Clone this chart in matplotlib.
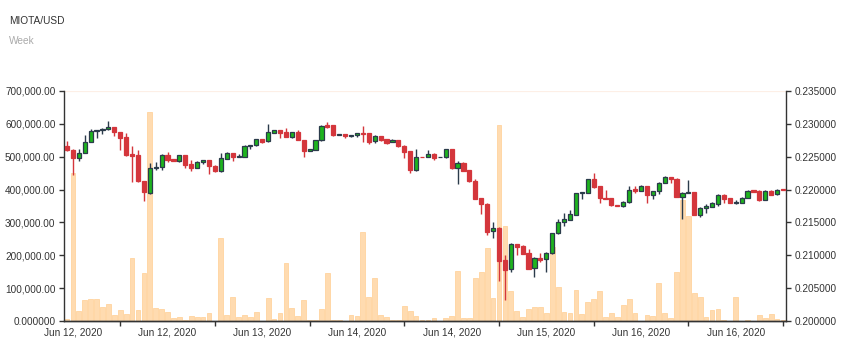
import matplotlib
matplotlib.use("Agg")
import matplotlib.pyplot as plt
from matplotlib.ticker import FuncFormatter
import numpy as np

plt.rcParams['font.family'] = ['Liberation Sans', 'DejaVu Sans']

# OHLC prices (USD) for each period
opens = [
    0.22658, 0.22607, 0.22486, 0.22562, 0.22724, 0.22896, 0.22907, 0.22917, 0.22947, 0.22876,
    0.22795, 0.22541, 0.22526, 0.22136, 0.21948, 0.22323, 0.22339, 0.22526, 0.22470, 0.22440,
    0.22521, 0.22384, 0.22328, 0.22420, 0.22445, 0.22364, 0.22278, 0.22470, 0.22562, 0.22496,
    0.22501, 0.22658, 0.22673, 0.22765, 0.22734, 0.22861, 0.22902, 0.22871, 0.22805, 0.22876,
    0.22760, 0.22582, 0.22607, 0.22749, 0.22978, 0.22978, 0.22825, 0.22841, 0.22820, 0.22825,
    0.22861, 0.22856, 0.22734, 0.22815, 0.22770, 0.22724, 0.22749, 0.22663, 0.22582, 0.22293,
    0.22501, 0.22496, 0.22536, 0.22491, 0.22491, 0.22612, 0.22328, 0.22405, 0.22298, 0.22136,
    0.21867, 0.21786, 0.21365, 0.21415, 0.20923, 0.20792, 0.21177, 0.21137, 0.21035, 0.20802,
    0.20964, 0.20939, 0.21030, 0.21334, 0.21502, 0.21537, 0.21618, 0.21943, 0.21953, 0.22156,
    0.22055, 0.21877, 0.21867, 0.21771, 0.21745, 0.21806, 0.22014, 0.21978, 0.22055, 0.21923,
    0.21973, 0.22100, 0.22192, 0.22166, 0.21892, 0.21948, 0.21958, 0.21618, 0.21720, 0.21740,
    0.21786, 0.21923, 0.21867, 0.21791, 0.21801, 0.21872, 0.21989, 0.21983, 0.21841, 0.21983,
    0.21928, 0.22004,
]
highs = [
    0.22734, 0.22618, 0.22618, 0.22831, 0.22917, 0.22912, 0.22937, 0.23044, 0.22947, 0.22876,
    0.22856, 0.22658, 0.22607, 0.22136, 0.22405, 0.22425, 0.22536, 0.22567, 0.22470, 0.22531,
    0.22521, 0.22450, 0.22440, 0.22450, 0.22445, 0.22374, 0.22552, 0.22577, 0.22562, 0.22547,
    0.22678, 0.22683, 0.22775, 0.22765, 0.22998, 0.22912, 0.22902, 0.22932, 0.22881, 0.22912,
    0.22760, 0.22612, 0.22760, 0.22978, 0.23028, 0.22978, 0.22841, 0.22841, 0.22836, 0.22866,
    0.22962, 0.22856, 0.22831, 0.22820, 0.22770, 0.22775, 0.22760, 0.22673, 0.22592, 0.22612,
    0.22501, 0.22602, 0.22552, 0.22501, 0.22618, 0.22612, 0.22435, 0.22415, 0.22298, 0.22156,
    0.21877, 0.21796, 0.21502, 0.21425, 0.21000, 0.21187, 0.21177, 0.21152, 0.21101, 0.20974,
    0.21035, 0.21045, 0.21344, 0.21558, 0.21639, 0.21694, 0.21948, 0.21958, 0.22161, 0.22257,
    0.22055, 0.21989, 0.21867, 0.21771, 0.21826, 0.22060, 0.22060, 0.22065, 0.22055, 0.21978,
    0.22110, 0.22202, 0.22192, 0.22171, 0.21963, 0.22151, 0.21968, 0.21735, 0.21786, 0.21806,
    0.21933, 0.21928, 0.21867, 0.21847, 0.21887, 0.21989, 0.21989, 0.21989, 0.21994, 0.21989,
    0.22004, 0.22004,
]
lows = [
    0.22592, 0.22217, 0.22435, 0.22552, 0.22719, 0.22785, 0.22846, 0.22912, 0.22820, 0.22597,
    0.22516, 0.22121, 0.22121, 0.21831, 0.21938, 0.22293, 0.22303, 0.22425, 0.22430, 0.22420,
    0.22328, 0.22288, 0.22323, 0.22384, 0.22232, 0.22268, 0.22273, 0.22465, 0.22440, 0.22491,
    0.22496, 0.22612, 0.22668, 0.22704, 0.22729, 0.22856, 0.22790, 0.22800, 0.22785, 0.22749,
    0.22501, 0.22582, 0.22602, 0.22744, 0.22932, 0.22820, 0.22825, 0.22790, 0.22805, 0.22795,
    0.22724, 0.22699, 0.22704, 0.22744, 0.22699, 0.22719, 0.22648, 0.22486, 0.22257, 0.22283,
    0.22491, 0.22491, 0.22445, 0.22491, 0.22486, 0.22318, 0.22085, 0.22283, 0.22121, 0.21857,
    0.21623, 0.21309, 0.21268, 0.20614, 0.20325, 0.20751, 0.21000, 0.21020, 0.20792, 0.20675,
    0.20903, 0.20741, 0.21025, 0.21329, 0.21451, 0.21532, 0.21613, 0.21862, 0.21948, 0.22024,
    0.21796, 0.21862, 0.21755, 0.21745, 0.21740, 0.21801, 0.21953, 0.21973, 0.21801, 0.21862,
    0.21938, 0.22095, 0.22105, 0.21882, 0.21552, 0.21943, 0.21608, 0.21588, 0.21649, 0.21730,
    0.21755, 0.21801, 0.21791, 0.21781, 0.21796, 0.21867, 0.21963, 0.21831, 0.21836, 0.21913,
    0.21923, 0.21994,
]
closes = [
    0.22597, 0.22476, 0.22562, 0.22724, 0.22896, 0.22907, 0.22927, 0.22947, 0.22871, 0.22785,
    0.22526, 0.22516, 0.22126, 0.21958, 0.22323, 0.22349, 0.22521, 0.22455, 0.22435, 0.22521,
    0.22379, 0.22323, 0.22420, 0.22445, 0.22364, 0.22278, 0.22476, 0.22562, 0.22496, 0.22516,
    0.22668, 0.22683, 0.22765, 0.22724, 0.22871, 0.22902, 0.22856, 0.22805, 0.22871, 0.22754,
    0.22582, 0.22612, 0.22749, 0.22973, 0.22952, 0.22831, 0.22841, 0.22820, 0.22836, 0.22856,
    0.22851, 0.22724, 0.22815, 0.22754, 0.22714, 0.22749, 0.22658, 0.22577, 0.22293, 0.22496,
    0.22491, 0.22536, 0.22486, 0.22501, 0.22612, 0.22328, 0.22405, 0.22288, 0.22131, 0.21862,
    0.21781, 0.21360, 0.21415, 0.20918, 0.20781, 0.21177, 0.21131, 0.21025, 0.20797, 0.20964,
    0.20934, 0.21035, 0.21334, 0.21502, 0.21547, 0.21623, 0.21943, 0.21958, 0.22156, 0.22044,
    0.21867, 0.21862, 0.21760, 0.21745, 0.21816, 0.21999, 0.21978, 0.22055, 0.21923, 0.21973,
    0.22100, 0.22192, 0.22161, 0.21887, 0.21953, 0.21958, 0.21613, 0.21725, 0.21750, 0.21791,
    0.21923, 0.21862, 0.21796, 0.21806, 0.21877, 0.21978, 0.21968, 0.21836, 0.21983, 0.21923,
    0.21994, 0.21994,
]
volumes = [
    7000, 450000, 31000, 65000, 68000, 66000, 43000, 51000, 17000, 34000,
    21000, 191000, 34000, 146000, 636000, 39000, 36000, 26000, 9000, 12000,
    3000, 14000, 13000, 13000, 25000, 0, 254000, 17000, 74000, 12000,
    19000, 12000, 27000, 0, 69000, 6000, 24000, 177000, 40000, 14000,
    64000, 4000, 4000, 38000, 145000, 2000, 2000, 0, 17000, 16000,
    272000, 72000, 132000, 18000, 12000, 3000, 3000, 46000, 30000, 16000,
    2000, 3000, 9000, 0, 9000, 15000, 152000, 9000, 9000, 131000,
    149000, 223000, 70000, 597000, 289000, 91000, 30000, 13000, 37000, 43000,
    43000, 24000, 226000, 103000, 27000, 23000, 94000, 20000, 59000, 66000,
    91000, 11000, 25000, 11000, 48000, 66000, 25000, 0, 18000, 16000,
    116000, 24000, 9000, 149000, 368000, 319000, 85000, 72000, 12000, 34000,
    37000, 3000, 0, 72000, 0, 3000, 0, 18000, 10000, 20000,
    6000, 2000,
]

date_labels = ["Jun 12, 2020", "Jun 12, 2020", "Jun 13, 2020", "Jun 14, 2020",
               "Jun 14, 2020", "Jun 15, 2020", "Jun 16, 2020", "Jun 16, 2020"]
label_index = [1, 17, 33, 49, 65, 81, 97, 113]
tick_index = [9, 25, 41, 57, 73, 89, 105, 121]

UP_FILL = '#1EB41E'
UP_LINE = '#2B3B4B'
DOWN = '#D4363C'
TEXT = '#333333'
FS = 7.2

fig = plt.figure(figsize=(8.63, 3.47), dpi=100)
ax = fig.add_axes([64 / 863, 1 - 321 / 347, 722 / 863, 230 / 347])
ax2 = ax.twinx()

n = len(opens)
x = np.arange(n)

# volume bars on the left scale
ax.bar(x, volumes, width=0.8, color='#FFDBB0', edgecolor='#FFD39E', linewidth=0.6, zorder=2)
ax.axhline(700000, color='#FDEFE6', lw=1.6, zorder=1)
ax.set_ylim(0, 700000)
ax.set_xlim(-0.5, n - 0.5)
ax.set_yticks(np.arange(0, 700001, 100000))
ax.yaxis.set_major_formatter(FuncFormatter(
    lambda v, p: '0.000000' if v == 0 else f'{v:,.2f}'))

# candlesticks on the right scale
o = np.array(opens); h = np.array(highs); l = np.array(lows); c = np.array(closes)
up = c >= o
wick_cols = [UP_LINE if u else DOWN for u in up]
face_cols = [UP_FILL if u else DOWN for u in up]
edge_cols = [UP_LINE if u else DOWN for u in up]
ax2.vlines(x, l, h, colors=wick_cols, linewidth=1.0, zorder=2)
ax2.bar(x, np.abs(c - o), bottom=np.minimum(o, c), width=0.7,
        color=face_cols, edgecolor=edge_cols, linewidth=0.9, zorder=3)
ax2.set_ylim(0.200, 0.235)
ax2.set_yticks(np.arange(0.200, 0.23501, 0.005))
ax2.yaxis.set_major_formatter(FuncFormatter(lambda v, p: f'{v:.6f}'))

# x axis: date labels centred between tick marks
ax.set_xticks(label_index)
ax.set_xticklabels(date_labels)
ax.set_xticks(tick_index, minor=True)
ax.tick_params(axis='x', which='major', length=0, pad=5, labelsize=FS, labelcolor=TEXT)
ax.tick_params(axis='x', which='minor', length=3.6, width=1, color=TEXT)

ax.tick_params(axis='y', length=3.6, width=1, pad=2.5, labelsize=FS, labelcolor=TEXT, color=TEXT)
ax2.tick_params(axis='y', length=3.6, width=1, pad=2.5, labelsize=FS, labelcolor=TEXT, color=TEXT)

for a in (ax, ax2):
    a.spines['top'].set_visible(False)
    for s in ('left', 'right', 'bottom'):
        a.spines[s].set_color(TEXT)
        a.spines[s].set_linewidth(1)
ax.spines['right'].set_visible(False)
ax2.spines['left'].set_visible(False)
ax.set_facecolor('white')

fig.text(9 / 863, 1 - 20.5 / 347, 'MIOTA/USD', fontsize=7.3, color=TEXT, va='center', ha='left')
fig.text(9 / 863, 1 - 41.3 / 347, 'Week', fontsize=7.3, color='#AAAAAA', va='center', ha='left')

fig.savefig('out.png', dpi=100)
